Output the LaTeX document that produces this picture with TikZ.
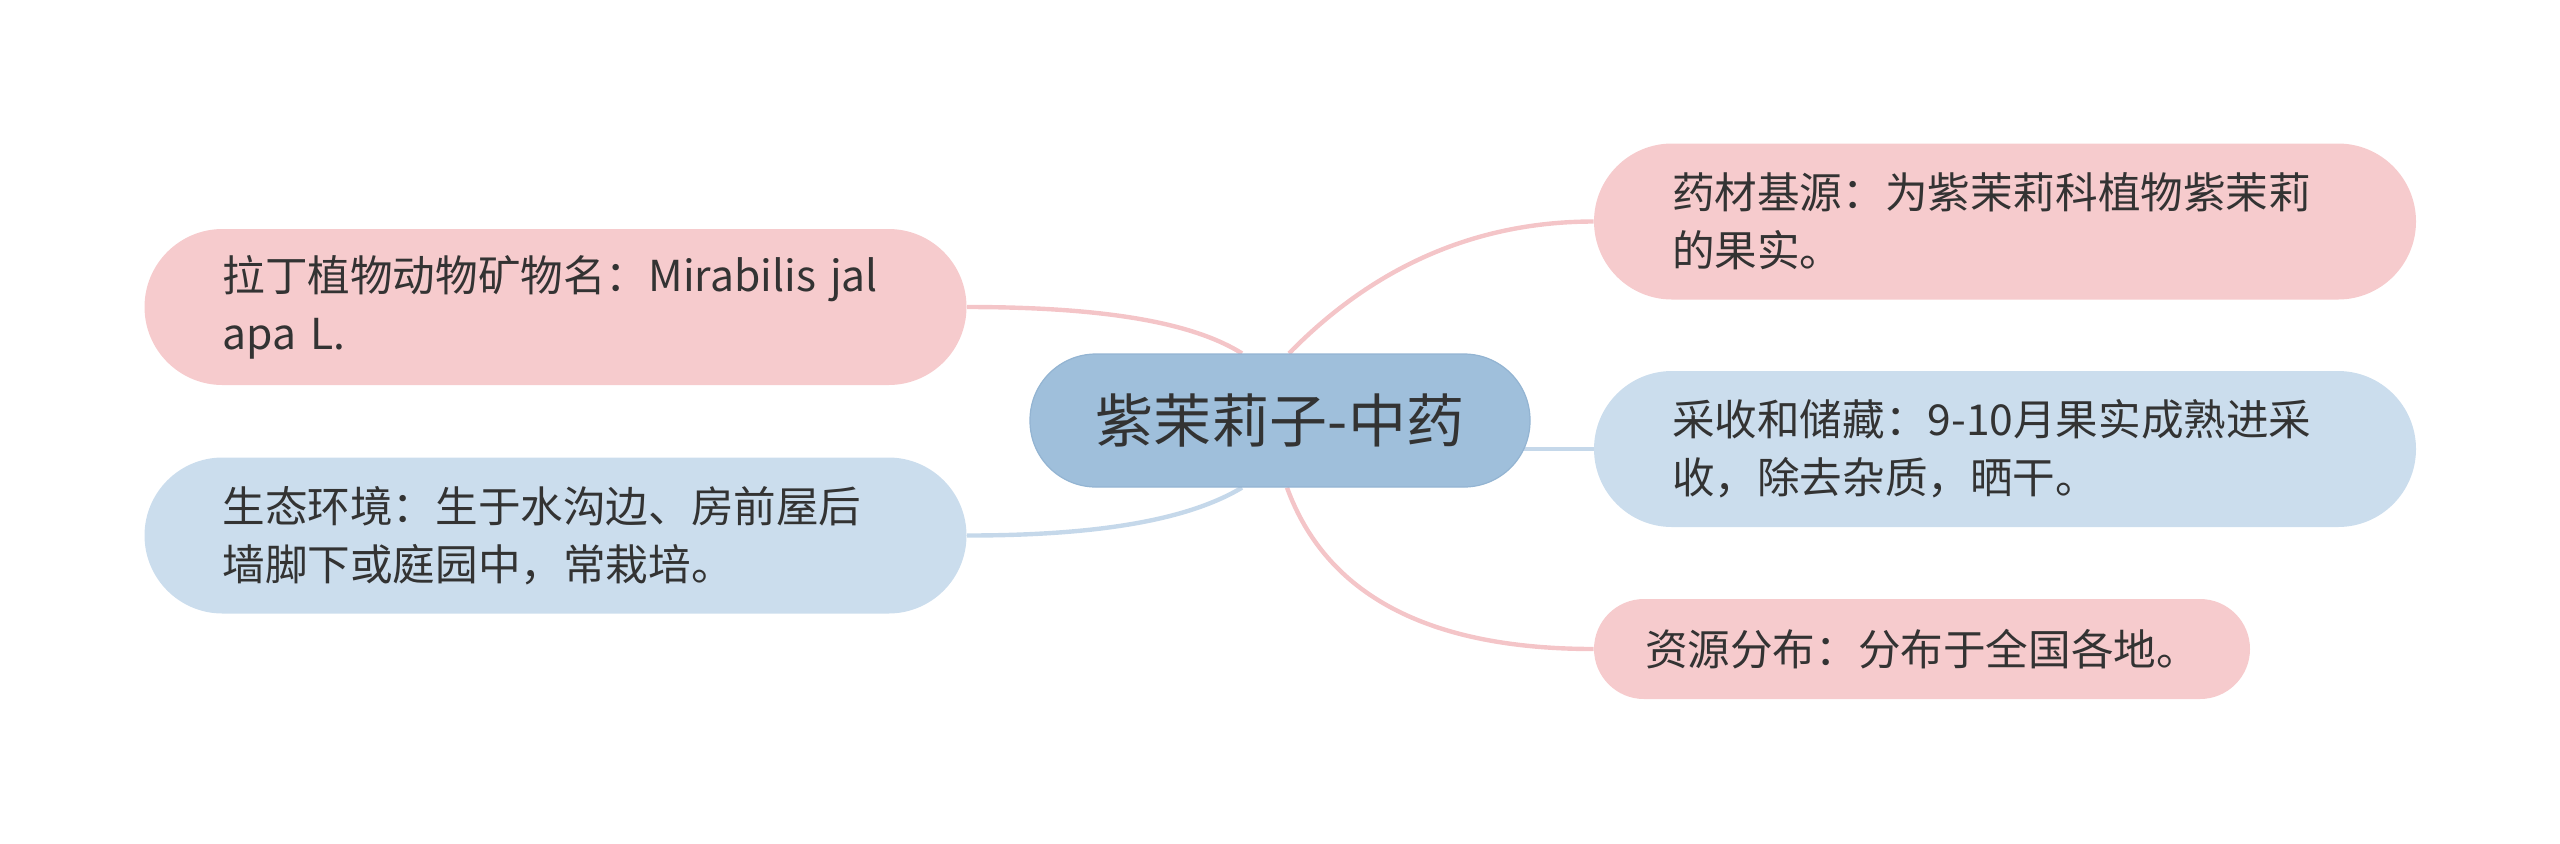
\documentclass[tikz,border=0pt]{standalone}
\usepackage{fontspec}
\newfontfamily\cjk{Noto Sans CJK SC}
\usetikzlibrary{backgrounds}
\definecolor{rootblue}{HTML}{9FBFDB}
\definecolor{rootedge}{HTML}{93B4D2}
\definecolor{leafpink}{HTML}{F6CBCD}
\definecolor{leafblue}{HTML}{CBDDED}
\definecolor{linepink}{HTML}{F4C5C8}
\definecolor{lineblue}{HTML}{C5D8EA}
\definecolor{txt}{HTML}{333333}

\begin{document}
\begin{tikzpicture}[x=0.5pt,y=-0.5pt,
  root/.style={fill=rootblue, draw=rootedge, line width=0.6pt, rounded corners=33pt,
    minimum width=250pt, minimum height=66.5pt, inner sep=0pt,
    font=\cjk\fontsize{29}{34}\selectfont, text=txt},
  leaf/.style={rounded corners=39pt, minimum height=78pt, inner xsep=39pt, inner ysep=0pt,
    text width=333pt, align=left, font=\cjk\fontsize{21.3}{29}\selectfont, text=txt},
  shortleaf/.style={rounded corners=25pt, minimum height=50pt, minimum width=328pt,
    inner sep=0pt, font=\cjk\fontsize{21.3}{29}\selectfont, text=txt},
  pinkleaf/.style={leaf, fill=leafpink},
  blueleaf/.style={leaf, fill=leafblue},
  link/.style={line width=2.2pt}]
  \useasboundingbox (0,0) rectangle (2560,843);

  \node[root] (root) at (1280,420.5) {紫茉莉子-中药};

  \node[pinkleaf] (latin) at (555.5,307) {拉丁植物动物矿物名：Mirabilis jal\\apa L.};
  \node[blueleaf] (habitat) at (555.5,535.5) {生态环境：生于水沟边、房前屋后\\墙脚下或庭园中，常栽培。};
  \node[pinkleaf] (source) at (2005,221.5) {药材基源：为紫茉莉科植物紫茉莉\\的果实。};
  \node[blueleaf] (harvest) at (2005,449) {采收和储藏：9-10月果实成熟进采\\收，除去杂质，晒干。};
  \node[shortleaf, fill=leafpink] (range) at (1922,649) {资源分布：分布于全国各地。};

  \begin{pgfonlayer}{background}
    \draw[link, linepink] ([xshift=-19pt]root.north) .. controls +(-51,-32) and +(133,0) .. (latin.east);
    \draw[link, lineblue] ([xshift=-19pt]root.south) .. controls +(-55,33) and +(129,0) .. (habitat.east);
    \draw[link, linepink] ([xshift=4.5pt]root.north) .. controls +(87,-89) and +(-115,0) .. (source.west);
    \draw[link, lineblue] (root.center |- harvest.west) -- (harvest.west);
    \draw[link, linepink] ([xshift=3.5pt]root.south) .. controls +(39,107) and +(-166,0) .. (range.west);
  \end{pgfonlayer}
\end{tikzpicture}
\end{document}
